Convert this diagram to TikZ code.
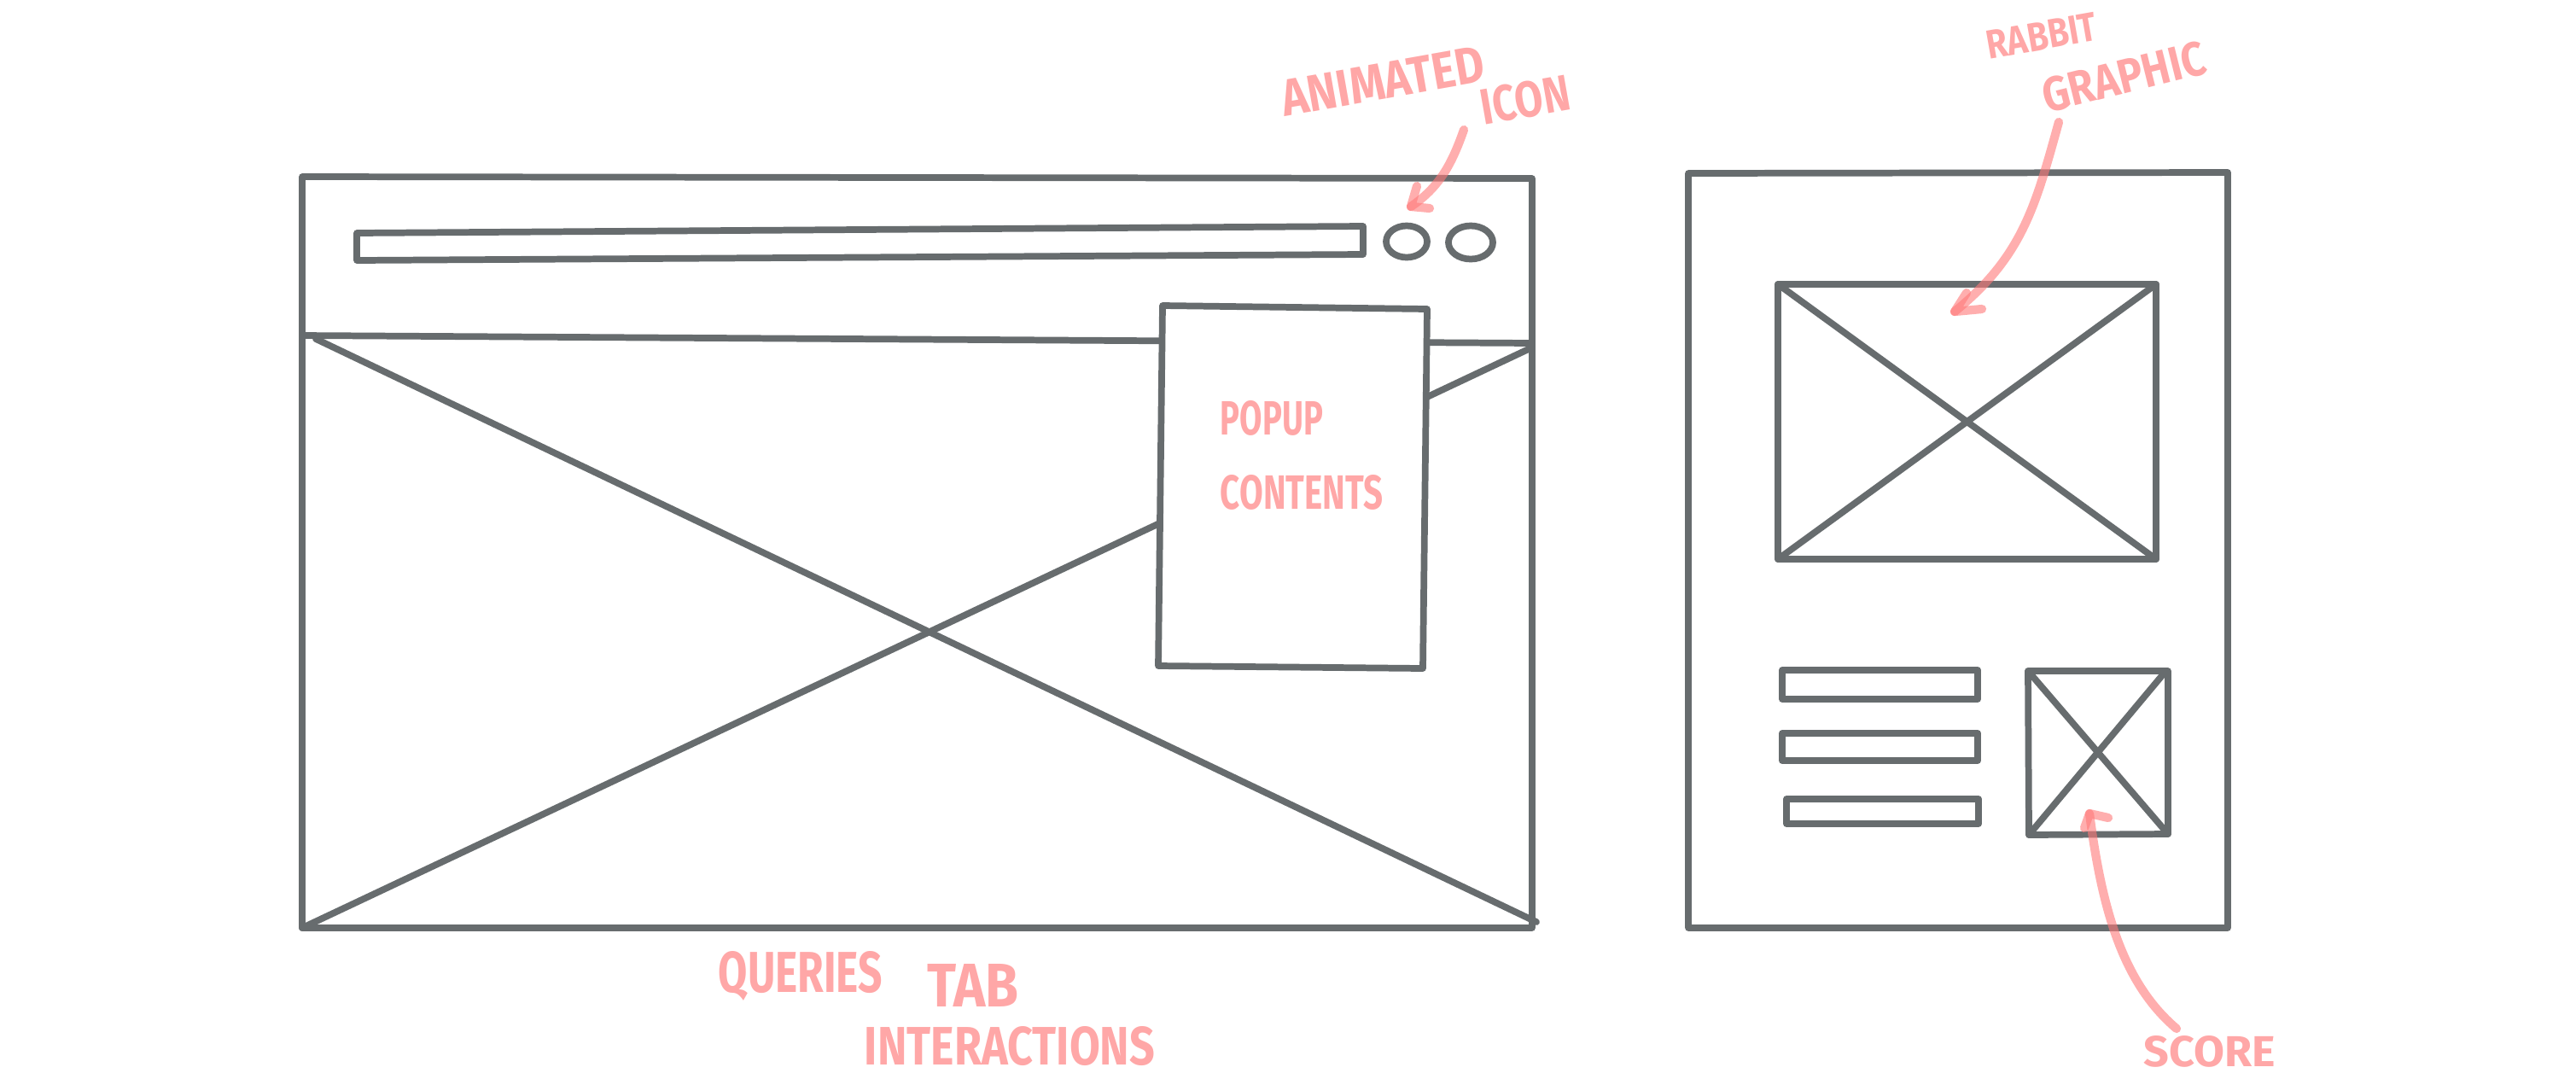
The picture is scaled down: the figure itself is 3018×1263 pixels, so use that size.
\documentclass[tikz,border=0pt]{standalone}
\usepackage{fontspec}
\setsansfont{Fira Sans}
\usepackage{graphicx}
\definecolor{ink}{RGB}{103,108,110}
\definecolor{marker}{RGB}{255,120,120}
\tikzset{
  wire/.style={draw=ink, line width=2.2pt, line join=round, line cap=round},
  pen/.style={draw=marker, line width=2.9pt, line cap=round, line join=round, opacity=0.6},
  note/.style={text=marker, text opacity=0.65, inner sep=0pt, font=\sffamily\bfseries},
}
% hand-lettered label squeezed to a given width and cap height
\newcommand\scribble[3]{\resizebox{#1}{#2}{#3}}
\begin{document}
\begin{tikzpicture}[x=0.01cm, y=-0.01cm]
\useasboundingbox (0,0) rectangle (3018,1263);

% ---------- browser window ----------
\draw[wire] (354,207) -- (1795,209) -- (1795,1087) -- (354,1087) -- cycle;
\draw[wire] (418,273) -- (1597,265) -- (1597,298) -- (418,305) -- cycle;
\draw[wire] (1648,283) ellipse [x radius=0.24cm, y radius=0.185cm];
\draw[wire] (1723,284) ellipse [x radius=0.26cm, y radius=0.195cm];
\draw[wire] (354,393) -- (1795,402);
\draw[wire] (370,397) -- (1800,1080);
\draw[wire] (354,1087) -- (1795,407);

% popup panel over the page content
\filldraw[wire, fill=white] (1362,358) -- (1672,362) -- (1667,783) -- (1357,780) -- cycle;

% ---------- popup card ----------
\draw[wire] (1978,203) -- (2610,202) -- (2610,1087) -- (1978,1087) -- cycle;
\draw[wire] (2083,333) -- (2526,333) -- (2526,655) -- (2083,655) -- cycle;
\draw[wire] (2083,333) -- (2526,655);
\draw[wire] (2083,655) -- (2526,333);
\draw[wire] (2088,785) -- (2317,785) -- (2317,819) -- (2088,819) -- cycle;
\draw[wire] (2088,859) -- (2317,859) -- (2317,891) -- (2088,891) -- cycle;
\draw[wire] (2093,936) -- (2318,936) -- (2318,965) -- (2093,965) -- cycle;
\draw[wire] (2376,786) -- (2540,786) -- (2540,977) -- (2377,978) -- cycle;
\draw[wire] (2376,786) -- (2540,977);
\draw[wire] (2377,978) -- (2535,789);

% ---------- annotations ----------
\node[note, rotate=10] (animated) at (1620,95) {\scribble{2.4cm}{0.42cm}{ANIMATED}};
\node[note, rotate=10] (icon) at (1787,117) {\scribble{1.05cm}{0.42cm}{ICON}};
\node[note, rotate=10] (rabbit) at (2392,42) {\scribble{1.3cm}{0.33cm}{RABBIT}};
\node[note, rotate=14] (graphic) at (2488,90) {\scribble{1.95cm}{0.4cm}{GRAPHIC}};
\node[note] (popup) at (1490,490) {\scribble{1.2cm}{0.4cm}{POPUP}};
\node[note] (contents) at (1525,577) {\scribble{1.9cm}{0.4cm}{CONTENTS}};
\node[note] (queries) at (938,1143) {\scribble{1.92cm}{0.48cm}{QUERIES}};
\node[note] (tab) at (1140,1154) {\scribble{1.07cm}{0.5cm}{TAB}};
\node[note] (interactions) at (1183,1226) {\scribble{3.4cm}{0.45cm}{INTERACTIONS}};
\node[note] (score) at (2589,1232) {\scribble{1.54cm}{0.36cm}{SCORE}};

% arrow ends
\coordinate (iconFrom) at (1715,152);
\coordinate (iconTip) at (1653,242);
\coordinate (rabbitFrom) at (2412,143);
\coordinate (rabbitTip) at (2290,365);
\coordinate (scoreFrom) at (2550,1205);
\coordinate (scoreTip) at (2448,953);

\draw[pen] (iconFrom) .. controls (1700,195) and (1685,220) .. (iconTip);
\draw[pen] (1660,218) -- (iconTip) -- (1675,244);

\draw[pen] (rabbitFrom) .. controls (2385,240) and (2370,300) .. (rabbitTip);
\draw[pen] (2304,343) -- (rabbitTip) -- (2322,362);

\draw[pen] (scoreFrom) .. controls (2485,1150) and (2462,1060) .. (scoreTip);
\draw[pen] (2442,970) -- (scoreTip) -- (2470,958);
\end{tikzpicture}
\end{document}
